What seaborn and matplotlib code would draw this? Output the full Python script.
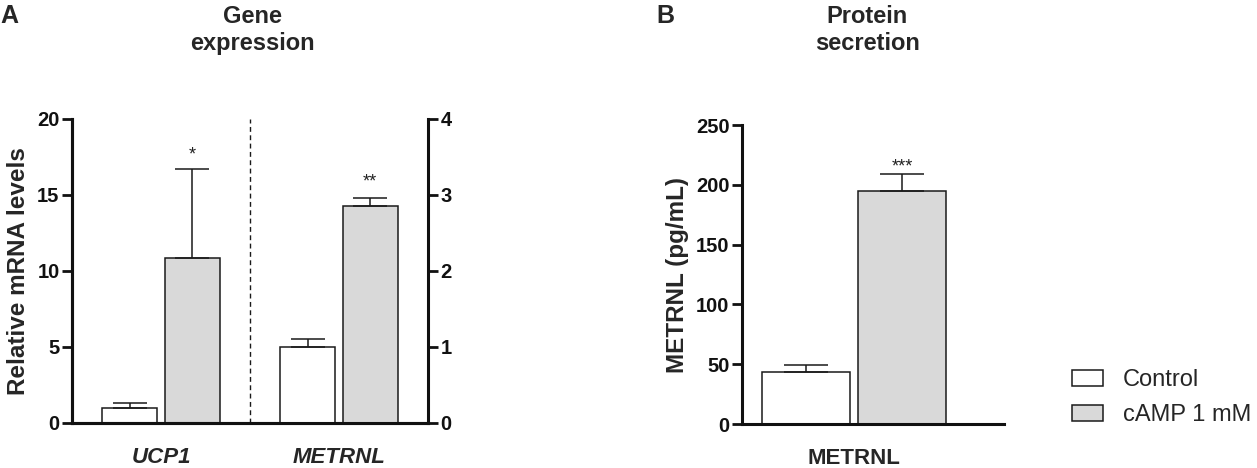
import matplotlib
matplotlib.use('Agg')
import matplotlib.pyplot as plt
import pandas as pd
import seaborn as sns

# data (mean, one-sided SEM)
groups = ['Control', 'cAMP 1 mM']
genes = ['UCP1', 'METRNL']
ucp1_mean = [1.0, 10.85]
ucp1_sem = [0.33, 5.85]
metrnl_mrna_mean = [1.0, 2.85]
metrnl_mrna_sem = [0.10, 0.11]
metrnl_prot_mean = [43.8, 194.8]
metrnl_prot_sem = [5.2, 14.2]
stars_ucp1 = ['', '*']
stars_metrnl = ['', '**']
stars_prot = ['', '***']

palette = {'Control': 'white', 'cAMP 1 mM': '#d9d9d9'}
edge = '#1a1a1a'

sns.set_style('ticks')
plt.rcParams['font.family'] = ['Liberation Sans', 'DejaVu Sans']

df_ucp1 = pd.DataFrame({'gene': 'UCP1', 'group': groups, 'value': ucp1_mean})
df_metrnl = pd.DataFrame({'gene': 'METRNL', 'group': groups, 'value': metrnl_mrna_mean})
df_prot = pd.DataFrame({'gene': 'METRNL', 'group': groups, 'value': metrnl_prot_mean})

fig = plt.figure(figsize=(12.57, 4.68), dpi=100)
axA = fig.add_axes([0.0573, 0.0962, 0.2832, 0.6496])
axA2 = axA.twinx()
axB = fig.add_axes([0.5903, 0.094, 0.2084, 0.6389])


def bars(ax, df, order, width, gap, sem, stars, capsize, star_off):
    sns.barplot(data=df, x='gene', y='value', hue='group', order=order,
                hue_order=groups, palette=palette, width=width, gap=gap,
                edgecolor=edge, linewidth=1.1, errorbar=None, legend=False,
                saturation=1, ax=ax)
    for cont, e, s in zip(ax.containers, sem, stars):
        for b in cont:
            xc = b.get_x() + b.get_width() / 2
            h = b.get_height()
            ax.errorbar(xc, h, yerr=[[0], [e]], fmt='none', ecolor=edge,
                        elinewidth=1.1, capsize=capsize, capthick=1.1, zorder=1)
            if s:
                ax.annotate(s, (xc, h + e), xytext=(0, star_off), textcoords='offset points',
                            ha='center', va='baseline', fontsize=13, color='#222222')


bars(axA, df_ucp1, genes, 0.7, 0.12, ucp1_sem, stars_ucp1, 12.5, 7)
bars(axA2, df_metrnl, genes, 0.7, 0.12, metrnl_mrna_sem, stars_metrnl, 12.5, 8)
bars(axB, df_prot, ['METRNL'], 0.8, 0.09, metrnl_prot_sem, stars_prot, 16, 2)

axA.set_xlim(-0.5, 1.5)
axA.set_ylim(0, 20)
axA2.set_ylim(0, 4)
axA.set_yticks([0, 5, 10, 15, 20])
axA2.set_yticks([0, 1, 2, 3, 4])
axA.axvline(0.5, color=edge, lw=1, ls=(0, (3.5, 2.5)))
axB.set_xlim(-0.467, 0.625)
axB.set_ylim(0, 250)
axB.set_yticks([0, 50, 100, 150, 200, 250])

for ax in (axA, axA2, axB):
    ax.set_xlabel('')
    ax.spines['top'].set_visible(False)
    for sp in ax.spines.values():
        sp.set_linewidth(2.2)
        sp.set_color('#111111')
    ax.tick_params(axis='y', length=7, width=2, pad=2, labelsize=14.5, colors='#111111')
    ax.tick_params(axis='x', length=0, pad=17, labelsize=16)
    for lab in ax.get_yticklabels():
        lab.set_fontweight('bold')
axB.spines['right'].set_visible(False)
axA.spines['right'].set_visible(False)

axA.set_ylabel('Relative mRNA levels', fontsize=17.5, fontweight='bold', labelpad=5)
axA2.set_ylabel('')
axB.set_ylabel('METRNL (pg/mL)', fontsize=17.5, fontweight='bold', labelpad=5)
for lab in axA.get_xticklabels():
    lab.set_fontweight('bold')
    lab.set_fontstyle('italic')
for lab in axB.get_xticklabels():
    lab.set_fontweight('bold')

fig.text(0.0, 0.966, 'A', fontsize=18, fontweight='bold', va='center', ha='left')
fig.text(0.5225, 0.966, 'B', fontsize=18, fontweight='bold', va='center', ha='left')
fig.text(0.201, 0.936, 'Gene\nexpression', fontsize=17, fontweight='bold', ha='center',
         va='center', linespacing=1.25)
fig.text(0.69, 0.936, 'Protein\nsecretion', fontsize=17, fontweight='bold', ha='center',
         va='center', linespacing=1.25)

handles = [plt.Rectangle((0, 0), 1, 1, facecolor=palette[g], edgecolor=edge, linewidth=1.1)
           for g in groups]
fig.legend(handles, groups, loc='center left', bbox_to_anchor=(0.853, 0.15),
           frameon=False, fontsize=17, handlelength=1.31, handleheight=0.68,
           handletextpad=0.85, labelspacing=0.56, borderaxespad=0, borderpad=0)

fig.savefig('out.png', dpi=100)
